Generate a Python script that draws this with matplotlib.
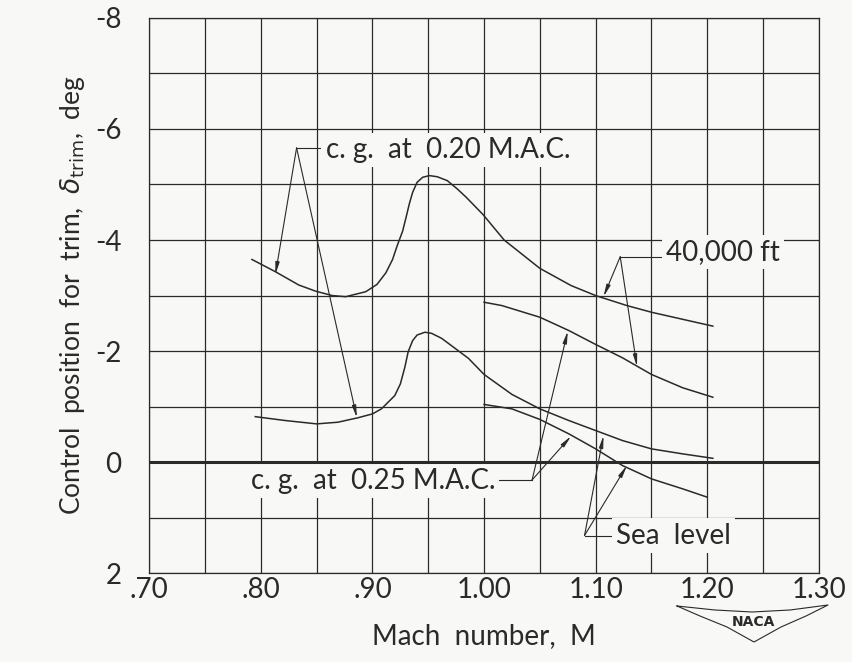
import numpy as np
import matplotlib.pyplot as plt

# Число Маха и угол отклонения руля для балансировки (чтение с графика)
mach_20_40k = [0.792, 0.813, 0.834, 0.849, 0.864, 0.876, 0.894, 0.904, 0.912, 0.918,
               0.922, 0.927, 0.930, 0.933, 0.936, 0.940, 0.945, 0.951, 0.958, 0.967,
               0.976, 0.984, 0.999, 1.018, 1.050, 1.078, 1.100, 1.128, 1.150, 1.205]
delta_20_40k = [-3.65, -3.43, -3.19, -3.08, -3.00, -2.98, -3.07, -3.20, -3.41, -3.65,
                -3.89, -4.16, -4.40, -4.65, -4.86, -5.04, -5.13, -5.16, -5.14, -5.07,
                -4.92, -4.77, -4.46, -4.00, -3.49, -3.18, -3.00, -2.82, -2.70, -2.45]

mach_20_sl = [0.795, 0.822, 0.850, 0.869, 0.887, 0.900, 0.908, 0.920, 0.925, 0.929,
              0.932, 0.936, 0.940, 0.947, 0.953, 0.962, 0.974, 0.986, 1.000, 1.025,
              1.050, 1.076, 1.100, 1.124, 1.150, 1.178, 1.205]
delta_20_sl = [-0.82, -0.75, -0.69, -0.72, -0.80, -0.87, -0.96, -1.20, -1.41, -1.71,
               -1.99, -2.19, -2.29, -2.34, -2.32, -2.23, -2.05, -1.87, -1.58, -1.22,
               -0.96, -0.75, -0.57, -0.39, -0.24, -0.15, -0.07]

mach_25_40k = [1.000, 1.016, 1.050, 1.076, 1.100, 1.124, 1.150, 1.178, 1.205]
delta_25_40k = [-2.88, -2.82, -2.61, -2.37, -2.12, -1.88, -1.58, -1.34, -1.17]

mach_25_sl = [1.000, 1.025, 1.050, 1.076, 1.100, 1.124, 1.150, 1.178, 1.200]
delta_25_sl = [-1.04, -0.96, -0.77, -0.51, -0.24, 0.06, 0.30, 0.48, 0.63]

x_ticks = [0.70, 0.80, 0.90, 1.00, 1.10, 1.20, 1.30]
x_tick_labels = ['.70', '.80', '.90', '1.00', '1.10', '1.20', '1.30']
y_ticks = [-8, -6, -4, -2, 0, 2]
y_tick_labels = ['-8', '-6', '-4', '-2', '0', '2']

paper = '#f8f8f6'
ink = '#2a2a2a'
plt.rcParams['font.family'] = ['Lato', 'DejaVu Sans']
plt.rcParams['mathtext.fontset'] = 'dejavusans'

fig = plt.figure(figsize=(8.53, 6.62), dpi=100, facecolor=paper)
ax = fig.add_axes([0.175, 0.134, 0.785, 0.839])
ax.set_facecolor(paper)

# Сетка
ax.set_xlim(0.70, 1.30)
ax.set_ylim(2, -8)
ax.set_xticks(x_ticks)
ax.set_xticklabels(x_tick_labels)
ax.set_xticks(np.arange(0.75, 1.30, 0.1), minor=True)
ax.set_yticks(y_ticks)
ax.set_yticklabels(y_tick_labels)
ax.set_yticks(np.arange(-7, 2, 2), minor=True)
ax.grid(True, which='both', color=ink, lw=0.9)
ax.set_axisbelow(True)
ax.tick_params(which='both', length=0, labelsize=20, colors=ink)
ax.tick_params(axis='x', pad=3)
ax.tick_params(axis='y', pad=20)
for s in ax.spines.values():
    s.set_color(ink)
    s.set_linewidth(0.9)

ax.axhline(0, color=ink, lw=2.2, zorder=5)

# Кривые
for m, d in [(mach_20_40k, delta_20_40k), (mach_20_sl, delta_20_sl),
             (mach_25_40k, delta_25_40k), (mach_25_sl, delta_25_sl)]:
    ax.plot(m, d, color=ink, lw=1.1, solid_joinstyle='round')

ax.set_xlabel('Mach  number,  M', fontsize=20, color=ink, labelpad=14)
ax.set_ylabel(r'Control  position  for  trim,  $\delta_{\mathrm{trim}}$,  deg', fontsize=19,
              color=ink, labelpad=6)

# Подписи со стрелками
box = dict(facecolor=paper, edgecolor='none', pad=3)
arrow = dict(arrowstyle='-|>,head_width=0.12,head_length=0.7', color=ink, lw=0.8,
             shrinkA=0, shrinkB=0)


def callout(text, joint, text_x, text_y, tips, ha='left'):
    ax.plot([joint[0], text_x], [joint[1], joint[1]], color=ink, lw=0.8)
    ax.text(text_x, text_y, text, fontsize=20, color=ink, va='center', ha=ha, bbox=box)
    for tip in tips:
        ax.annotate('', xy=tip, xytext=joint, arrowprops=arrow)


callout('c. g.  at  0.20 M.A.C.', (0.832, -5.66), 0.858, -5.62,
        [(0.813, -3.38), (0.886, -0.80)])
callout('c. g.  at  0.25 M.A.C.', (1.043, 0.32), 1.010, 0.33,
        [(1.075, -2.36), (1.078, -0.47)], ha='right')
callout('40,000 ft', (1.122, -3.70), 1.163, -3.78,
        [(1.107, -2.98), (1.137, -1.72)])
callout('Sea  level', (1.090, 1.32), 1.118, 1.32,
        [(1.107, -0.48), (1.128, 0.06)])

# Эмблема NACA
wing_px = [(677, 606), (715, 610), (752, 612), (790, 610), (828, 605), (806, 616),
           (781, 627), (754, 642), (727, 627), (700, 616), (677, 606)]
fig.add_artist(plt.Line2D([p[0] / 853 for p in wing_px], [1 - p[1] / 662 for p in wing_px],
                          color=ink, lw=0.8, transform=fig.transFigure))
fig.text(753 / 853, 1 - 622 / 662, 'NACA', fontsize=10, fontweight='bold', color=ink,
         ha='center', va='center', family='DejaVu Sans')

fig.savefig('out.png', dpi=100, facecolor=paper)
